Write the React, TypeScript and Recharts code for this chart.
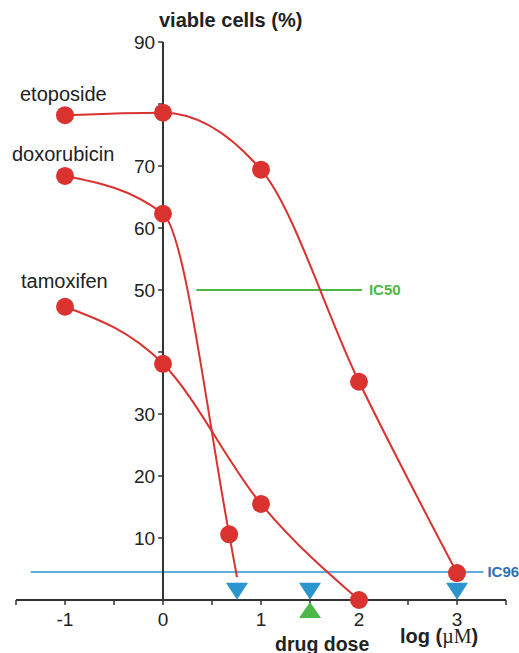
import React from 'react';
import {
  LineChart,
  Line,
  XAxis,
  YAxis,
  ReferenceLine,
  ReferenceDot,
} from 'recharts';

// dose on a log scale (µM) and % viable cells
const etoposideX = [-1, 0, 1, 2, 3];
const etoposideY = [78.2, 78.6, 69.4, 35.2, 4.35];

const doxorubicinX = [-1, 0, 0.675];
const doxorubicinY = [68.4, 62.3, 10.6];
// the doxorubicin curve runs on past its last dot down to its IC96 arrow
const doxorubicinTail = { x: 0.755, y: 3.7 };

const tamoxifenX = [-1, 0, 1, 2];
const tamoxifenY = [47.3, 38.1, 15.5, 0];

const xTicks = [-1.5, -1, -0.5, 0, 0.5, 1, 1.5, 2, 2.5, 3, 3.5];
const yTicks = [10, 20, 30, 40, 50, 60, 70, 80, 90];
const yTickLabels = [10, 20, 30, 50, 60, 70, 90];

const ic50 = 50;
const ic50Range = [0.34, 2.03];
const ic96 = 4.5;
const ic96Range = [-1.35, 3.27];

// IC96 doses (arrows on the axis) and the IC50 dose of tamoxifen
const ic96Doses = [0.755, 1.5, 3];
const ic50Doses = [1.5];
const arrowDownY = 1.4;
const arrowUpY = -1.6;

const RED = '#d9322f';
const BLUE = '#2b95d0';
const GREEN = '#4cb848';
const FONT = '"Liberation Sans", Arial, sans-serif';

const toPoints = (xs: number[], ys: number[]) =>
  xs.map((x, i) => ({ x, y: ys[i] }));

const etoposide = toPoints(etoposideX, etoposideY);
const doxorubicin = [...toPoints(doxorubicinX, doxorubicinY), doxorubicinTail];
const tamoxifen = toPoints(tamoxifenX, tamoxifenY);

const makeDot = (count: number) => (props: any) => {
  const { cx, cy, index } = props;
  if (index >= count) return <g key={`d-${index}`} />;
  return <circle key={`d-${index}`} cx={cx} cy={cy} r={9} fill={RED} stroke='none' />;
};

const TriangleDown = (props: any) => {
  const { cx, cy } = props;
  return (
    <path
      d={`M${cx - 11},${cy - 8.5} L${cx + 11},${cy - 8.5} L${cx},${cy + 8.5} Z`}
      fill={BLUE}
    />
  );
};

const TriangleUp = (props: any) => {
  const { cx, cy } = props;
  return (
    <path
      d={`M${cx - 11},${cy + 8} L${cx + 11},${cy + 8} L${cx},${cy - 8} Z`}
      fill={GREEN}
    />
  );
};

export default function App() {
  return (
    <div
      style={{
        position: 'absolute',
        left: 0,
        top: 0,
        width: 519,
        height: 653,
        background: '#fff',
        overflow: 'hidden',
      }}>
      <LineChart
        width={519}
        height={653}
        margin={{ top: 42, right: 13, left: 16, bottom: 23 }}
        style={{ fontFamily: FONT }}>
        <XAxis
          type='number'
          dataKey='x'
          domain={[-1.5, 3.5]}
          ticks={xTicks}
          tickFormatter={(v) => (Number.isInteger(v) ? String(v) : '')}
          tickSize={5}
          tickMargin={8}
          height={30}
          axisLine={{ stroke: '#333', strokeWidth: 2 }}
          tickLine={{ stroke: '#333', strokeWidth: 1.5 }}
          tick={{ fill: '#222', fontSize: 19 }}
        />
        <YAxis type='number' dataKey='y' domain={[0, 90]} hide />

        <ReferenceLine
          segment={[
            { x: ic50Range[0], y: ic50 },
            { x: ic50Range[1], y: ic50 },
          ]}
          stroke={GREEN}
          strokeWidth={2}
          label={{
            value: 'IC50',
            position: 'right',
            offset: 7,
            fill: GREEN,
            fontSize: 15,
            fontWeight: 'bold',
          }}
        />
        <ReferenceLine
          segment={[
            { x: ic96Range[0], y: ic96 },
            { x: ic96Range[1], y: ic96 },
          ]}
          stroke={BLUE}
          strokeWidth={1.5}
          label={{
            value: 'IC96',
            position: 'right',
            offset: 4,
            fill: '#2e6fb5',
            fontSize: 15,
            fontWeight: 'bold',
          }}
        />

        {/* y axis drawn through x = 0 */}
        <ReferenceLine
          segment={[
            { x: 0, y: 0 },
            { x: 0, y: 90 },
          ]}
          stroke='#333'
          strokeWidth={2}
        />
        {yTicks.map((v) => (
          <ReferenceLine
            key={v}
            segment={[
              { x: -0.05, y: v },
              { x: 0, y: v },
            ]}
            stroke='#333'
            strokeWidth={1.5}
            label={
              yTickLabels.includes(v)
                ? { value: String(v), position: 'left', offset: 3, fill: '#222', fontSize: 19 }
                : undefined
            }
          />
        ))}

        <Line
          data={etoposide}
          dataKey='y'
          type='monotone'
          stroke={RED}
          strokeWidth={2}
          dot={makeDot(etoposide.length)}
          isAnimationActive={false}
        />
        <Line
          data={doxorubicin}
          dataKey='y'
          type='monotone'
          stroke={RED}
          strokeWidth={2}
          dot={makeDot(doxorubicinX.length)}
          isAnimationActive={false}
        />
        <Line
          data={tamoxifen}
          dataKey='y'
          type='monotone'
          stroke={RED}
          strokeWidth={2}
          dot={makeDot(tamoxifen.length)}
          isAnimationActive={false}
        />

        {ic96Doses.map((d) => (
          <ReferenceDot
            key={`down-${d}`}
            x={d}
            y={arrowDownY}
            ifOverflow='visible'
            shape={TriangleDown}
          />
        ))}
        {ic50Doses.map((d) => (
          <ReferenceDot
            key={`up-${d}`}
            x={d}
            y={arrowUpY}
            ifOverflow='visible'
            shape={TriangleUp}
          />
        ))}

        <text x={159} y={27} fontSize={20} fontWeight='bold' fill='#222'>
          viable cells (%)
        </text>
        <text x={20} y={101} fontSize={20} fill='#222'>
          etoposide
        </text>
        <text x={12} y={161} fontSize={20} fill='#222'>
          doxorubicin
        </text>
        <text x={21} y={288} fontSize={20} fill='#222'>
          tamoxifen
        </text>
        <text x={275} y={651} fontSize={19.5} fontWeight='bold' fill='#222'>
          drug dose
        </text>
        <text x={400} y={643} fontSize={20} fontWeight='bold' fill='#222'>
          log (
          <tspan fontFamily='"Liberation Serif", serif' fontWeight='normal'>
            µM
          </tspan>
          )
        </text>
      </LineChart>
    </div>
  );
}
